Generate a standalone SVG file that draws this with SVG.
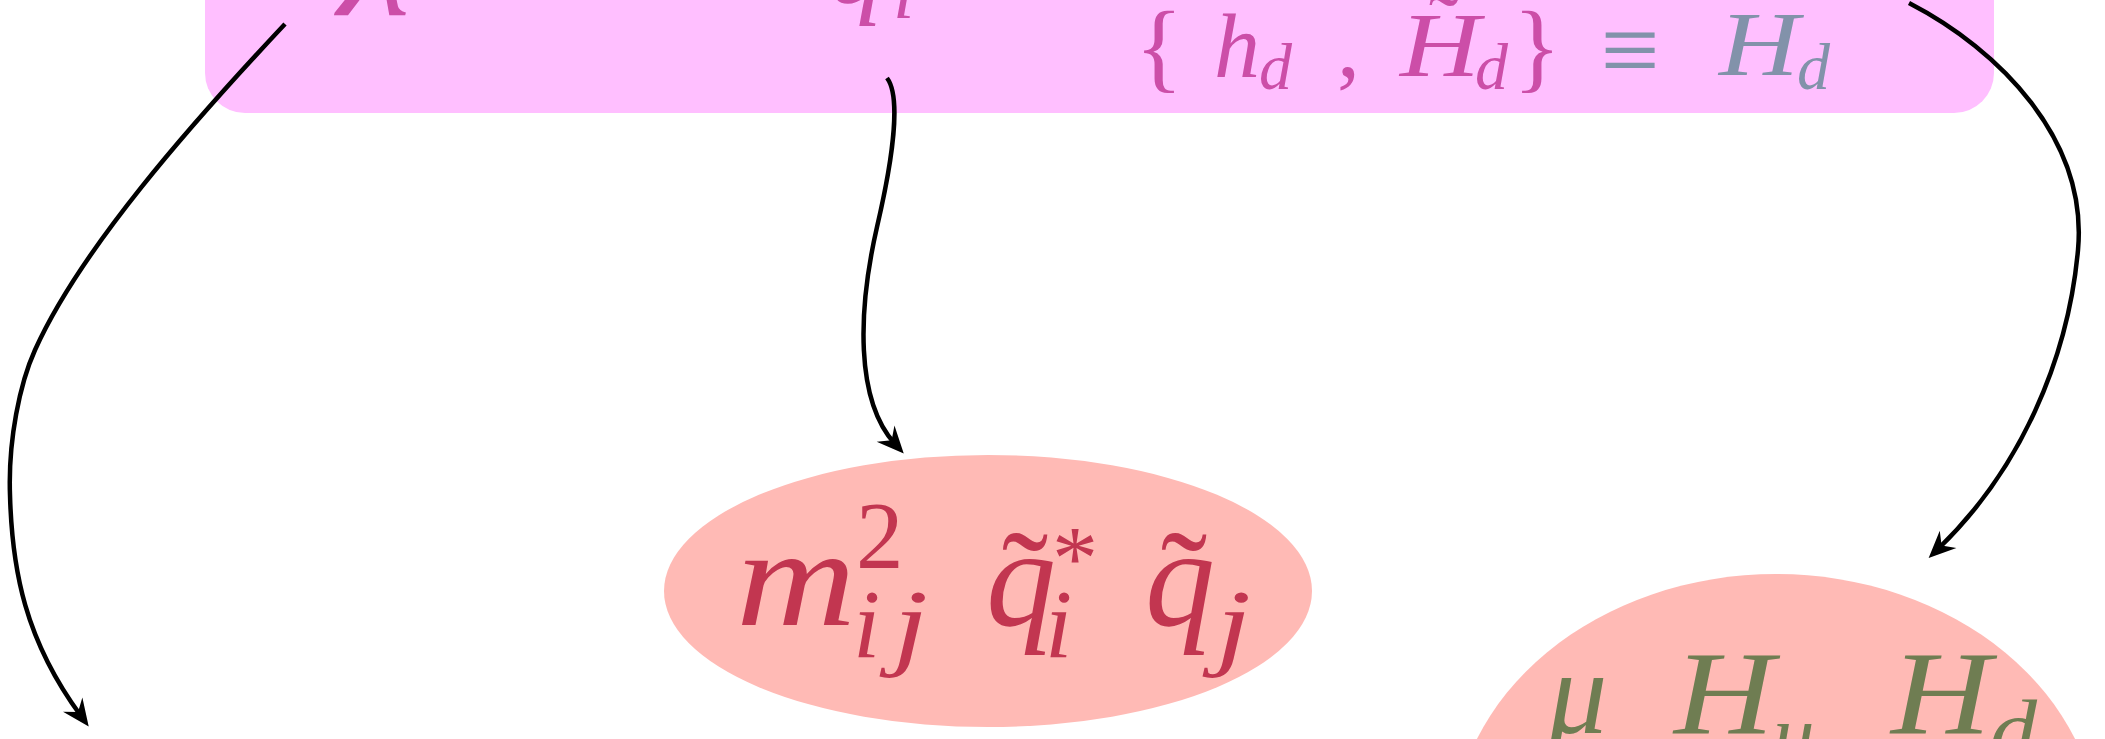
<svg xmlns="http://www.w3.org/2000/svg" width="2105" height="739" viewBox="0 0 2105 739">
<style>
.box{fill:#ffbfff}
.ell{fill:#ffbab5}
.conn{fill:none;stroke:#000;stroke-width:4.5;marker-end:url(#arrow)}
.it{font-family:"Liberation Serif","Times New Roman",serif;font-style:italic}
.rm{font-family:"Liberation Serif","Times New Roman",serif}
.mag{fill:#cc4ea8}
.gb{fill:#8292aa}
.cr{fill:#c23650}
.ol{fill:#6f7d52}
</style>
<defs>
<marker id="arrow" markerUnits="userSpaceOnUse" markerWidth="50" markerHeight="50" viewBox="-25 -25 50 50" refX="0" refY="0" orient="auto" overflow="visible">
<path d="M13,0 L-14,-12 L-5,0 L-14,12 Z" fill="#000"/>
</marker>
</defs>
<rect width="2105" height="739" fill="#fff"/>
<g id="fields">
<rect class="box" x="205" y="-60" width="1789" height="173" rx="40" ry="40"/>
<text class="it mag" x="338" y="15" font-size="125" textLength="72" lengthAdjust="spacingAndGlyphs">λ</text>
<text class="it mag" x="829" y="3" font-size="110">q</text>
<text class="it mag" x="893" y="18" font-size="77">i</text>
<text class="rm mag" x="1135" y="80" font-size="100">{</text>
<text class="it mag" x="1214" y="77" font-size="92">h</text>
<text class="it mag" x="1259" y="89" font-size="66">d</text>
<text class="rm mag" x="1337" y="76" font-size="92">,</text>
<text class="rm mag" x="1444" y="56" font-size="92" text-anchor="middle">˜</text>
<text class="it mag" x="1400" y="76" font-size="92" textLength="80" lengthAdjust="spacingAndGlyphs">H</text>
<text class="it mag" x="1475" y="89" font-size="66">d</text>
<text class="rm mag" x="1513" y="80" font-size="100">}</text>
<text class="rm gb" x="1630" y="85" font-size="105" text-anchor="middle">≡</text>
<text class="it gb" x="1719" y="75" font-size="92" textLength="80" lengthAdjust="spacingAndGlyphs">H</text>
<text class="it gb" x="1797" y="89" font-size="66">d</text>
</g>
<g id="node-mass">
<ellipse class="ell" cx="988" cy="591" rx="324" ry="136"/>
<text class="it cr" x="736" y="625" font-size="140" textLength="120" lengthAdjust="spacingAndGlyphs">m</text>
<text class="rm cr" x="856" y="568" font-size="95">2</text>
<text class="it cr" x="853" y="657" font-size="98">i</text>
<text class="it cr" x="893" y="657" font-size="98" textLength="35" lengthAdjust="spacingAndGlyphs">j</text>
<text class="rm cr" x="1025" y="627" font-size="140" text-anchor="middle">˜</text>
<text class="it cr" x="986" y="625" font-size="140">q</text>
<text class="rm cr" x="1052" y="589" font-size="92">*</text>
<text class="it cr" x="1045" y="657" font-size="98">i</text>
<text class="rm cr" x="1184" y="627" font-size="140" text-anchor="middle">˜</text>
<text class="it cr" x="1145" y="625" font-size="140">q</text>
<text class="it cr" x="1216" y="657" font-size="98" textLength="35" lengthAdjust="spacingAndGlyphs">j</text>
</g>
<g id="node-mu">
<ellipse class="ell" cx="1776" cy="842" rx="324" ry="268"/>
<text class="it ol" x="1548" y="733" font-size="118">μ</text>
<text class="it ol" x="1674" y="733" font-size="118" textLength="100" lengthAdjust="spacingAndGlyphs">H</text>
<text class="it ol" x="1773" y="762" font-size="83">u</text>
<text class="it ol" x="1891" y="733" font-size="118" textLength="100" lengthAdjust="spacingAndGlyphs">H</text>
<text class="it ol" x="1990" y="757" font-size="83" textLength="47" lengthAdjust="spacingAndGlyphs">d</text>
</g>
<g id="connectors">
<path class="conn" d="M285,24 C190,125 80,250 35,350 C20,383 8,440 10,495 C12,570 25,640 81,716"/>
<path class="conn" d="M887,78 C900,95 895,150 877,227 C858,310 855,400 895,444"/>
<path class="conn" d="M1909,3 C2000,50 2088,140 2078,250 C2068,360 2020,470 1938,549"/>
</g>
</svg>
